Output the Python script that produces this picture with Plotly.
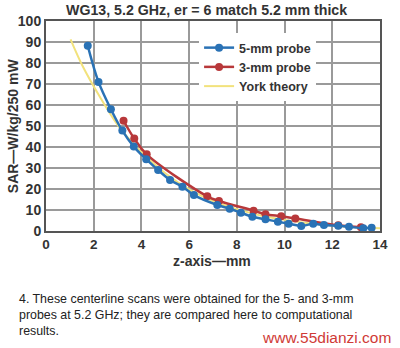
import plotly.graph_objects as go

# 5-mm probe
blue_z = [1.75, 2.2, 2.72, 3.2, 3.68, 4.2, 4.7, 5.2, 5.72, 6.2, 7.18, 7.7, 8.17, 8.65, 9.2, 9.72, 10.17, 10.7, 11.2, 11.65, 12.25, 12.7, 13.3, 13.65]
blue_sar = [88.2, 71.0, 58.0, 47.8, 40.2, 34.2, 29.0, 24.3, 21.1, 17.1, 12.4, 10.6, 8.7, 6.8, 5.6, 4.4, 3.5, 2.4, 3.4, 2.8, 2.5, 2.0, 1.3, 1.5]
# 3-mm probe
red_z = [3.25, 3.7, 4.22, 6.76, 7.25, 8.7, 9.2, 9.86, 10.45, 12.25, 13.2]
red_sar = [52.5, 44.0, 36.5, 16.5, 14.3, 9.7, 8.0, 7.0, 6.0, 2.7, 1.8]
# York theory
york_z = [1.03, 1.55, 2.25, 3.0, 3.7, 4.2, 5.0, 6.0, 7.0, 8.0, 9.0, 10.0, 11.0, 12.0, 13.0, 14.0]
york_sar = [91.3, 78.2, 64.0, 50.5, 41.0, 35.5, 27.5, 19.8, 14.3, 10.4, 7.4, 5.3, 3.7, 2.6, 1.8, 1.3]

x_ticks = [0, 2, 4, 6, 8, 10, 12, 14]
y_ticks = [0, 10, 20, 30, 40, 50, 60, 70, 80, 90, 100]

BLUE = "#2a72b5"
RED = "#b8383a"
YELLOW = "#f2e27c"
FONT = "Liberation Sans"

fig = go.Figure()
fig.add_trace(go.Scatter(x=york_z, y=york_sar, mode="lines", name="York theory",
                         line=dict(color=YELLOW, width=2, shape="spline")))
fig.add_trace(go.Scatter(x=red_z, y=red_sar, mode="lines+markers", name="3-mm probe",
                         line=dict(color=RED, width=2.5, shape="spline"),
                         marker=dict(color=RED, size=8)))
fig.add_trace(go.Scatter(x=blue_z, y=blue_sar, mode="lines+markers", name="5-mm probe",
                         line=dict(color=BLUE, width=2.5, shape="spline"),
                         marker=dict(color=BLUE, size=8)))

L, R, T, B = 46, 18, 21, 117
W, H = 400, 348
pw, ph = W - L - R, H - T - B

def px(x):
    return (x - L) / pw

def py(y):
    return (H - B - y) / ph

fig.update_layout(
    width=W, height=H,
    margin=dict(l=L, r=R, t=T, b=B, pad=0),
    paper_bgcolor="white", plot_bgcolor="white",
    font=dict(family=FONT, color="#333333", size=13),
    showlegend=True,
    legend=dict(x=px(200), y=py(33), xanchor="left", yanchor="top",
                bgcolor="white", traceorder="reversed",
                font=dict(family=FONT, size=12.5, color="#333333", weight="bold"),
                itemwidth=30, tracegroupgap=0),
    xaxis=dict(range=[0, 14], tickvals=x_ticks, ticks="", showgrid=True,
               gridcolor="#9a9a9a", gridwidth=1.5, showline=True, linecolor="#555555",
               linewidth=2, mirror=True, zeroline=False,
               tickfont=dict(family=FONT, size=13.5, color="#333333", weight="bold")),
    yaxis=dict(range=[0, 100], tickvals=y_ticks, ticks="", showgrid=True,
               gridcolor="#9a9a9a", gridwidth=1.5, showline=True, linecolor="#555555",
               linewidth=2, mirror=True, zeroline=False,
               tickfont=dict(family=FONT, size=14, color="#333333", weight="bold")),
)

fig.add_annotation(text="WG13, 5.2 GHz, er = 6 match 5.2 mm thick", xref="paper", yref="paper",
                   x=px(207), y=py(10), xanchor="center", yanchor="middle", showarrow=False,
                   font=dict(family=FONT, size=14.2, color="#333333", weight="bold"))
fig.add_annotation(text="z-axis—mm", xref="paper", yref="paper",
                   x=px(213), y=py(261), xanchor="center", yanchor="middle", showarrow=False,
                   font=dict(family=FONT, size=14, color="#333333", weight="bold"))
fig.add_annotation(text="SAR—W/kg/250 mW", xref="paper", yref="paper", textangle=-90,
                   x=px(13), y=py(126), xanchor="center", yanchor="middle", showarrow=False,
                   font=dict(family=FONT, size=14, color="#333333", weight="bold"))
fig.add_annotation(text="4. These centerline scans were obtained for the 5- and 3-mm<br>"
                        "probes at 5.2 GHz; they are compared here to computational<br>results.",
                   xref="paper", yref="paper", x=px(17), y=py(290), xanchor="left", yanchor="top",
                   align="left", showarrow=False,
                   font=dict(family="Liberation Sans", size=12.4, color="#222222", weight="normal"))
fig.add_annotation(text="www.55dianzi.com", xref="paper", yref="paper",
                   x=px(395), y=py(337), xanchor="right", yanchor="middle", showarrow=False,
                   font=dict(family="Liberation Sans", size=15.5, color="#d03a36", weight="normal"))

fig.write_html("out.html")
